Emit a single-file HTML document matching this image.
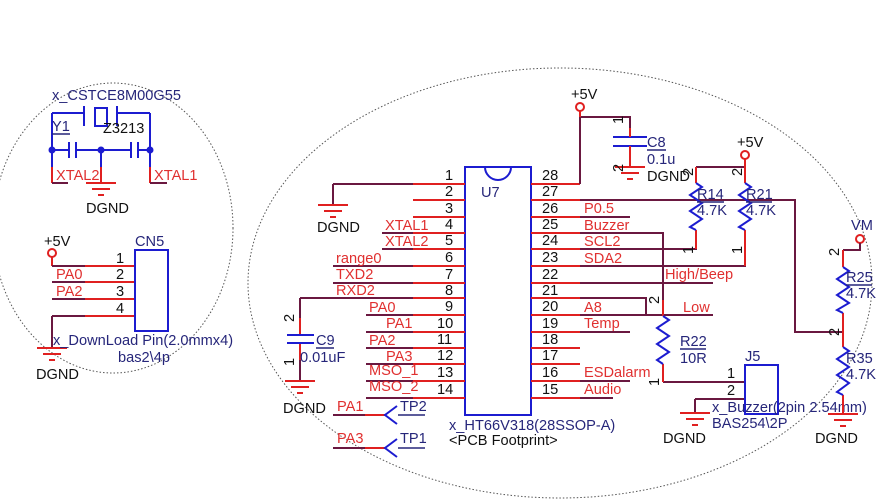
<!DOCTYPE html>
<html><head><meta charset="utf-8"><style>
html,body{margin:0;padding:0;background:#fff;}
svg{display:block;}
text{font-family:"Liberation Sans",Arial,sans-serif;font-size:14.6px;}
.n{fill:#111;}
.l{fill:#e03030;}
.c{fill:#26267a;}
.r{stroke:#e02020;stroke-width:2;fill:none;}
.m{stroke:#6a1840;stroke-width:2;fill:none;}
.b{stroke:#1c1cd0;stroke-width:2;fill:none;}
</style></head><body>
<svg width="895" height="501" viewBox="0 0 895 501" xmlns="http://www.w3.org/2000/svg">
<defs>
<g id="gnd"><path d="M-15 0H15M-9 6H9M-3 12H3" stroke="#e02020" stroke-width="2"/></g>
</defs>
<ellipse cx="113" cy="228" rx="120" ry="145" fill="none" stroke="#555" stroke-width="1" stroke-dasharray="1.5,2"/>
<ellipse cx="560" cy="283" rx="312" ry="215" fill="none" stroke="#555" stroke-width="1" stroke-dasharray="1.5,2"/>

<text x="52" y="100" class="c">x_CSTCE8M00G55</text>
<path class="b" d="M52 113H84M84 106V126M117 106V126M118 113H150M52 113V167M150 113V167"/>
<rect x="95" y="108" width="12" height="18" class="b"/>
<text x="52" y="131" class="c">Y1</text><path d="M52 134H70" stroke="#26267a" stroke-width="1.5"/>
<text x="103" y="133" class="n">Z3213</text>
<path class="b" d="M52 150H69M69 142V158M76 142V158M76 150H131M131 142V158M138 142V158M138 150H150M101 150V167"/>
<circle cx="52" cy="150" r="3.5" fill="#1c1cd0"/><circle cx="101" cy="150" r="3.5" fill="#1c1cd0"/><circle cx="150" cy="150" r="3.5" fill="#1c1cd0"/>
<path class="r" d="M52 167V183M150 167V183M101 167V183"/>
<path class="m" d="M52 183H68M150 183H167"/>
<use href="#gnd" x="101" y="183"/>
<text x="56" y="180" class="l">XTAL2</text>
<text x="154" y="180" class="l">XTAL1</text>
<text x="86" y="213" class="n">DGND</text>

<text x="44" y="246" class="n">+5V</text>
<circle cx="52" cy="253" r="4" class="r"/>
<path class="r" d="M52 257V266"/>
<path class="m" d="M52 266H85M52 282H85M52 299H85M52 316H85M52 316V348"/>
<path class="r" d="M85 266H135M85 282H135M85 299H135M85 316H135"/>
<rect x="135" y="250" width="33" height="81" class="b"/>
<text x="135" y="246" class="c">CN5</text>
<text x="116" y="263" class="n">1</text><text x="116" y="279" class="n">2</text><text x="116" y="296" class="n">3</text><text x="116" y="313" class="n">4</text>
<text x="56" y="279" class="l">PA0</text><text x="56" y="296" class="l">PA2</text>
<use href="#gnd" x="52" y="348"/>
<text x="53" y="345" class="c">x_DownLoad Pin(2.0mmx4)</text>
<text x="118" y="362" class="c">bas2\4p</text>
<text x="36" y="379" class="n">DGND</text>

<rect x="465" y="167" width="66" height="248" class="b"/>
<path d="M485 167A13 13 0 0 0 511 167" class="b"/>
<text x="481" y="197" class="c">U7</text>
<text x="449" y="430" class="c">x_HT66V318(28SSOP-A)</text>
<text x="449" y="445" class="n">&lt;PCB Footprint&gt;</text>
<path class="r" d="M413 184H465M413 200H465M413 217H465M413 233H465M413 249H465M413 266H465M413 283H465M413 298H465M413 315H465M413 332H465M413 348H465M413 364H465M413 381H465M413 398H465"/>
<path class="m" d="M333 184H413M333 184V205M382 233H413M382 249H413M333 266H413M333 283H413M300 298H413M366 315H413M366 332H413M366 348H413M366 364H413M366 381H413M366 398H413"/>
<use href="#gnd" x="333" y="205"/>
<text x="317" y="232" class="n">DGND</text>
<g class="n">
<text x="445" y="180">1</text><text x="445" y="196">2</text><text x="445" y="213">3</text><text x="445" y="229">4</text><text x="445" y="245">5</text><text x="445" y="262">6</text><text x="445" y="279">7</text><text x="445" y="295">8</text><text x="445" y="311">9</text><text x="437" y="328">10</text><text x="437" y="344">11</text><text x="437" y="360">12</text><text x="437" y="377">13</text><text x="437" y="394">14</text>
</g>
<g class="l">
<text x="385" y="230">XTAL1</text><text x="385" y="246">XTAL2</text><text x="336" y="263">range0</text><text x="336" y="279">TXD2</text><text x="336" y="295">RXD2</text>
<text x="369" y="312">PA0</text><text x="386" y="328">PA1</text><text x="369" y="345">PA2</text><text x="386" y="361">PA3</text><text x="369" y="375">MSO_1</text><text x="369" y="391">MSO_2</text>
</g>
<path class="m" d="M300 298V318"/><path class="r" d="M300 318V335M300 343V360"/><path class="m" d="M300 360V381"/>
<path class="b" d="M287 335H314M287 343H314"/>
<use href="#gnd" x="300" y="381"/>
<text x="316" y="345" class="c">C9</text><path d="M316 348H334" stroke="#26267a" stroke-width="1.5"/>
<text x="300" y="362" class="c">0.01uF</text>
<text transform="translate(294,322) rotate(-90)" class="n">2</text>
<text transform="translate(294,366) rotate(-90)" class="n">1</text>
<text x="283" y="413" class="n">DGND</text>
<path class="m" d="M333 415H365M333 448H365"/><path class="r" d="M365 415H385M365 448H385"/>
<path class="b" d="M397 406L385 415L397 424M397 439L385 448L397 457"/>
<text x="337" y="411" class="l">PA1</text><text x="337" y="443" class="l">PA3</text>
<text x="400" y="411" class="c">TP2</text><path d="M398 415H425" stroke="#26267a" stroke-width="1.5"/>
<text x="400" y="443" class="c">TP1</text><path d="M398 448H425" stroke="#26267a" stroke-width="1.5"/>

<path class="r" d="M531 184H580M531 200H580M531 217H580M531 233H580M531 249H580M531 266H580M531 283H580M531 298H580M531 315H580M531 332H580M531 348H580M531 364H580M531 381H580M531 398H580"/>
<g class="n">
<text x="542" y="180">28</text><text x="542" y="196">27</text><text x="542" y="213">26</text><text x="542" y="229">25</text><text x="542" y="245">24</text><text x="542" y="262">23</text><text x="542" y="279">22</text><text x="542" y="295">21</text><text x="542" y="311">20</text><text x="542" y="328">19</text><text x="542" y="344">18</text><text x="542" y="360">17</text><text x="542" y="377">16</text><text x="542" y="394">15</text>
</g>
<g class="l">
<text x="584" y="213">P0.5</text><text x="584" y="230">Buzzer</text><text x="584" y="246">SCL2</text><text x="584" y="263">SDA2</text><text x="665" y="279">High/Beep</text>
<text x="584" y="312">A8</text><text x="683" y="312">Low</text><text x="584" y="328">Temp</text><text x="584" y="377">ESDalarm</text><text x="584" y="394">Audio</text>
</g>
<path class="m" d="M580 184V117H630V128M580 200H795V332H843M580 217H630M580 233H663V315M580 249H696V230M580 266H745V230M580 283H713M580 298H646V315H713M580 315H646M580 332H630M580 381H630M580 398H613M663 382H745M695 399H745M695 399V413"/>
<text x="571" y="99" class="n">+5V</text>
<circle cx="580" cy="107" r="4" class="r"/>
<path class="r" d="M580 111V117"/>
<path class="b" d="M613 137H647M613 146H647"/>
<path class="r" d="M630 128V137M630 146V167"/>
<use href="#gnd" x="630" y="167"/>
<text x="647" y="147" class="c">C8</text><path d="M647 150H666" stroke="#26267a" stroke-width="1.5"/>
<text x="647" y="164" class="c">0.1u</text>
<text x="647" y="181" class="n">DGND</text>
<text transform="translate(623,124) rotate(-90)" class="n">1</text>
<text transform="translate(623,172) rotate(-90)" class="n">2</text>
<text x="737" y="147" class="n">+5V</text>
<circle cx="745" cy="155" r="4" class="r"/>
<path class="m" d="M696 167H745"/>
<path class="r" d="M745 159V183M696 167V183M696 230V249M745 230V266"/>
<path class="b" d="M696 183L702 187L690 195L702 203L690 211L702 219L690 227L696 230M745 183L751 187L739 195L751 203L739 211L751 219L739 227L745 230"/>
<text x="697" y="199" class="c">R14</text><path d="M697 202H724" stroke="#26267a" stroke-width="1.5"/>
<text x="697" y="215" class="c">4.7K</text>
<text x="746" y="199" class="c">R21</text><path d="M746 202H772" stroke="#26267a" stroke-width="1.5"/>
<text x="746" y="215" class="c">4.7K</text>
<text transform="translate(693,176) rotate(-90)" class="n">2</text>
<text transform="translate(742,176) rotate(-90)" class="n">2</text>
<text transform="translate(693,254) rotate(-90)" class="n">1</text>
<text transform="translate(742,254) rotate(-90)" class="n">1</text>
<path class="r" d="M663 300V316M663 364V382"/>
<path class="b" d="M663 316L669 320L657 328L669 336L657 344L669 352L657 360L663 364"/>
<text x="680" y="346" class="c">R22</text><path d="M680 349H706" stroke="#26267a" stroke-width="1.5"/>
<text x="680" y="363" class="c">10R</text>
<text transform="translate(659,304) rotate(-90)" class="n">2</text>
<text transform="translate(659,386) rotate(-90)" class="n">1</text>
<rect x="745" y="365" width="33" height="49" class="b"/>
<text x="745" y="361" class="c">J5</text>
<text x="727" y="378" class="n">1</text><text x="727" y="395" class="n">2</text>
<use href="#gnd" x="695" y="413"/>
<text x="712" y="412" class="c">x_Buzzer(2pin 2.54mm)</text>
<text x="712" y="428" class="c">BAS254\2P</text>
<text x="663" y="443" class="n">DGND</text>
<text x="851" y="230" class="c">VM</text>
<circle cx="860" cy="239" r="4" class="r"/>
<path class="m" d="M843 250H860V243"/>
<path class="r" d="M843 250V267M843 313V347M843 395V414"/>
<path class="b" d="M843 267L849 271L837 279L849 287L837 295L849 303L837 310L843 313M843 347L849 351L837 359L849 367L837 375L849 383L837 392L843 395"/>
<use href="#gnd" x="843" y="414"/>
<text x="846" y="282" class="c">R25</text><path d="M846 285H872" stroke="#26267a" stroke-width="1.5"/>
<text x="846" y="298" class="c">4.7K</text>
<text x="846" y="363" class="c">R35</text>
<text x="846" y="379" class="c">4.7K</text>
<text transform="translate(839,256) rotate(-90)" class="n">2</text>
<text transform="translate(839,336) rotate(-90)" class="n">2</text>
<text x="815" y="443" class="n">DGND</text>
</svg>
</body></html>
